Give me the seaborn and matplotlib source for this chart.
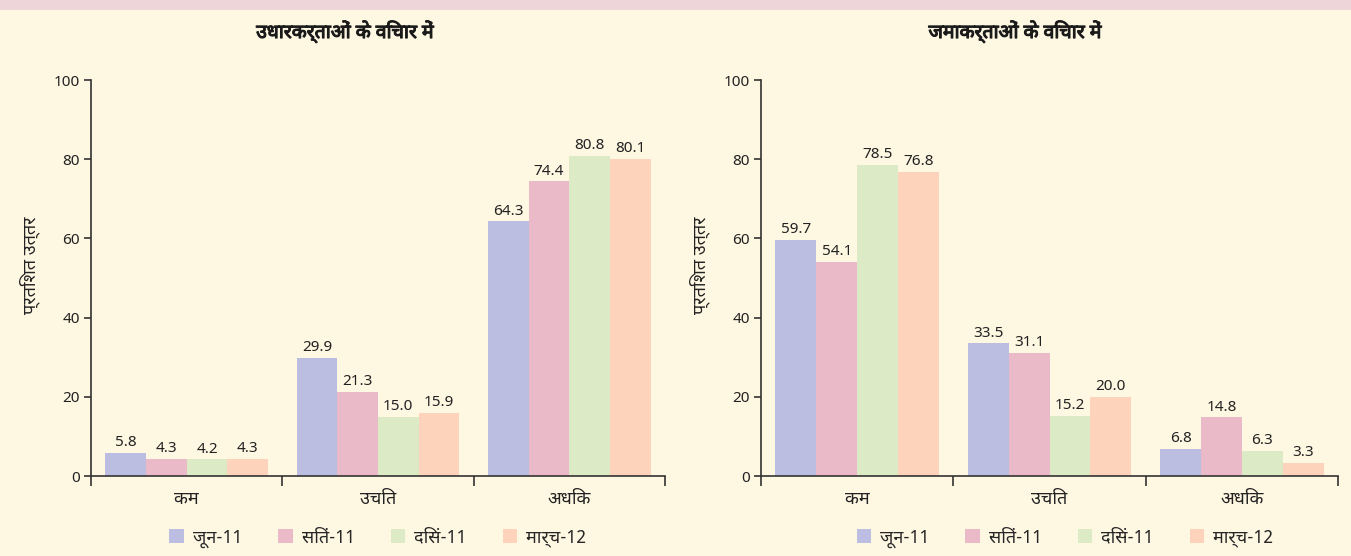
import matplotlib
matplotlib.use("Agg")
import matplotlib.pyplot as plt
from matplotlib import font_manager
from matplotlib.patches import Rectangle
import matplotlib.patheffects as pe
import seaborn as sns
import pandas as pd

# ---------------- data ----------------
categories = ["कम", "उचित", "अधिक"]
periods = ["जून-11", "सितं-11", "दिसं-11", "मार्च-12"]
borrowers = {  # per period, values for कम, उचित, अधिक
    "जून-11": [5.8, 29.9, 64.3],
    "सितं-11": [4.3, 21.3, 74.4],
    "दिसं-11": [4.2, 15.0, 80.8],
    "मार्च-12": [4.3, 15.9, 80.1],
}
depositors = {
    "जून-11": [59.7, 33.5, 6.8],
    "सितं-11": [54.1, 31.1, 14.8],
    "दिसं-11": [78.5, 15.2, 6.3],
    "मार्च-12": [76.8, 20.0, 3.3],
}
titles = ["उधारकर्ताओं के विचार में", "जमाकर्ताओं के विचार में"]
ylabel = "प्रतिशत उत्तर"
yticks = [0, 20, 40, 60, 80, 100]
colors = ["#BBBEE0", "#EBBAC8", "#DDEAC6", "#FDD4BB"]
bg = "#FEF7E2"

sns.set_theme(style="white")

# choose a Devanagari-capable font
available = {f.name for f in font_manager.fontManager.ttflist}
dev_font = None
for cand in ["Noto Sans Devanagari", "Hind", "Mukta", "Poppins", "Yantramanav",
             "Noto Serif Devanagari", "FreeSans", "FreeSerif"]:
    if cand in available:
        dev_font = cand
        break
fams = ([dev_font] if dev_font else []) + ["Noto Sans", "DejaVu Sans"]
plt.rcParams["font.family"] = fams
num_fam = ["Noto Sans", "DejaVu Sans"]

def to_df(d):
    rows = []
    for p in periods:
        for c, v in zip(categories, d[p]):
            rows.append({"cat": c, "period": p, "value": v})
    return pd.DataFrame(rows)

fig = plt.figure(figsize=(13.51, 5.56), dpi=100, facecolor=bg)
fig.patches.append(Rectangle((0, 1 - 10 / 556), 1, 10 / 556, transform=fig.transFigure,
                             facecolor="#EED5D9", edgecolor="none", zorder=0))

axes_pos = [[91 / 1351, 1 - 476 / 556, 574 / 1351, 396 / 556],
            [761 / 1351, 1 - 476 / 556, 577 / 1351, 396 / 556]]
title_x = [345 / 1351, 1015 / 1351]
leg_x = [0.5, 0.527]
ylabel_x = [30 / 1351, 700 / 1351]

for i, data in enumerate([borrowers, depositors]):
    ax = fig.add_axes(axes_pos[i])
    ax.set_facecolor(bg)
    df = to_df(data)
    sns.barplot(data=df, x="cat", y="value", hue="period", order=categories,
                hue_order=periods, palette=colors, width=0.85, ax=ax,
                edgecolor="none", saturation=1, legend=True)
    for cont in ax.containers:
        ax.bar_label(cont, fmt="%.1f", padding=2, fontsize=11, color="#222222",
                     family=num_fam)
    ax.set_xlim(-0.5, 2.5)
    ax.set_ylim(0, 100)
    ax.set_yticks(yticks)
    ax.set_yticklabels([str(t) for t in yticks], fontsize=11, color="#222222",
                       family=num_fam)
    ax.set_xticks([-0.5, 0.5, 1.5, 2.5])
    ax.set_xticklabels([])
    ax.set_xticks([0, 1, 2], minor=True)
    ax.set_xticklabels(categories, minor=True, fontsize=13, color="#222222")
    ax.tick_params(axis="x", which="major", direction="out", length=7, width=1.2,
                   color="#333333", bottom=True)
    ax.tick_params(axis="x", which="minor", length=0, pad=10)
    ax.tick_params(axis="y", direction="out", length=5, width=1.2, color="#333333",
                   left=True, pad=3)
    ax.set_xlabel("")
    ax.set_ylabel("")
    for s in ["top", "right"]:
        ax.spines[s].set_visible(False)
    for s in ["left", "bottom"]:
        ax.spines[s].set_color("#333333")
        ax.spines[s].set_linewidth(1.2)
    ax.grid(False)
    handles, labels = ax.get_legend_handles_labels()
    ax.legend_.remove()
    ax.legend(handles, labels, loc="center", bbox_to_anchor=(leg_x[i], -0.157), ncol=4,
              frameon=False, fontsize=13, handlelength=0.8, handleheight=0.8,
              handletextpad=0.5, columnspacing=2.0)
    fig.text(title_x[i], 1 - 32 / 556, titles[i], ha="center", va="center",
             fontsize=14, fontweight="bold", color="#1a1a1a",
             path_effects=[pe.withStroke(linewidth=0.8, foreground="#1a1a1a")])
    fig.text(ylabel_x[i], 1 - 265 / 556, ylabel, ha="center", va="center",
             rotation=90, fontsize=13, color="#222222")

fig.savefig("out.png", dpi=100, facecolor=bg)
